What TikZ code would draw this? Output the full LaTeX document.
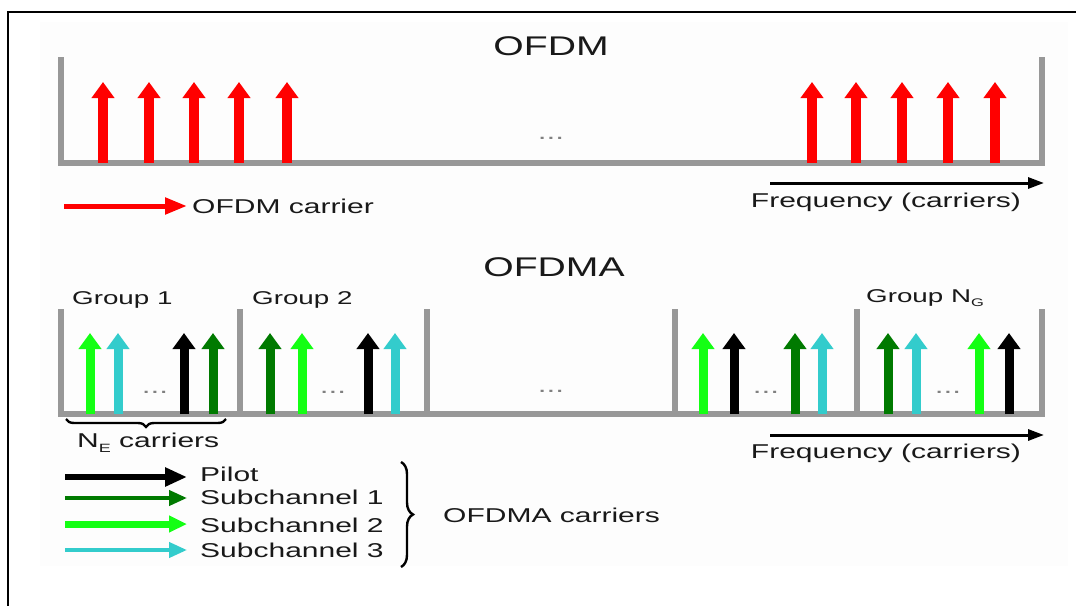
\documentclass[tikz,border=0pt]{standalone}
\usepackage{fontspec}
\newfontfamily\wf[FakeStretch=1.5]{Liberation Sans}
\newfontfamily\wt[FakeStretch=1.45]{Liberation Sans}
\usetikzlibrary{arrows.meta,decorations.pathreplacing}
\definecolor{axisgray}{RGB}{152,152,152}
\definecolor{ofdmred}{RGB}{255,0,0}
\definecolor{dgreen}{RGB}{0,122,0}
\definecolor{lgreen}{RGB}{20,255,20}
\definecolor{cyanc}{RGB}{51,204,204}
\definecolor{txt}{RGB}{25,25,25}
\definecolor{bgc}{RGB}{253,253,253}
\begin{document}
\begin{tikzpicture}[x=1pt,y=-1pt,
  lbl/.style={inner sep=0pt,text=txt,font=\wf\fontsize{20}{24}\selectfont},
  grp/.style={inner sep=0pt,text=txt,font=\wf\fontsize{18.5}{22}\selectfont},
  ttl/.style={inner sep=0pt,text=txt,font=\wt\fontsize{27}{32}\selectfont},
  dotsnode/.style={inner sep=0pt,text=gray,font=\wf\fontsize{21}{24}\selectfont},
  axisline/.style={draw=axisgray,line width=6pt,line join=miter,line cap=butt},
  carrier/.style={line width=9pt,-{Triangle[length=16pt,width=22pt]}},
  freqarrow/.style={line width=3pt,-{Triangle[length=16pt,width=11pt]}}
]
\useasboundingbox (0,0) rectangle (1076,605);
\fill[bgc] (40,22) rectangle (1068,566);
\draw[line width=2.2pt] (8,606) -- (8,12) -- (1076,12);

% ---------- OFDM ----------
\node[ttl] (tofdm) at (551,46) {OFDM};
\draw[axisline] (61,57) -- (61,163) -- (1042,163) -- (1042,57);
\foreach \x in {103,149,194,239,287,812,856,902,948,995}
  \draw[carrier,line width=10pt,ofdmred] (\x,163) -- (\x,82);
\node[dotsnode] (d0) at (551,138) {...};
\coordinate (lofdmA) at (64,206);
\coordinate (lofdmB) at (187,206);
\draw[ofdmred,line width=5pt,-{Triangle[length=22pt,width=16pt]}] (lofdmA) -- (lofdmB);
\node[lbl,anchor=west] (lofdm) at (192,206) {OFDM carrier};
\coordinate (f1a) at (770,183);
\coordinate (f1b) at (1044,183);
\draw[freqarrow] (f1a) -- (f1b);
\node[lbl] (freq1) at (886,202) {Frequency (carriers)};

% ---------- OFDMA ----------
\node[ttl] (tofdma) at (554,267) {OFDMA};
\draw[axisline] (61,309) -- (61,414) -- (1042,414) -- (1042,309);
\foreach \x in {240,427,675,857}
  \draw[axisline] (\x,309) -- (\x,414);
\foreach \x/\c in {90/lgreen,118/cyanc,184/black,213/dgreen,
                   270/dgreen,302/lgreen,368/black,395/cyanc,
                   703/lgreen,734/black,795/dgreen,822/cyanc,
                   888/dgreen,916/cyanc,979/lgreen,1009/black}
  \draw[carrier,\c] (\x,414) -- (\x,333);
\foreach \x [count=\i] in {155,333,766,948}
  \node[dotsnode] (gd\i) at (\x,392) {...};
\node[dotsnode] (dmid) at (551,391) {...};

\node[grp,anchor=west] (g1) at (72,300) {Group 1};
\node[grp,anchor=west] (g2) at (252,300) {Group 2};
\node[grp,anchor=west] (gn) at (866,298) {Group N\raisebox{-0.45ex}{\fontsize{11}{11}\selectfont G}};

\coordinate (brA) at (226,419);
\coordinate (brB) at (66,419);
\draw[line width=2.4pt,decorate,decoration={brace,amplitude=8pt}] (brA) -- (brB);
\node[lbl,anchor=west] (ne) at (77,443) {N\raisebox{-0.5ex}{\fontsize{12}{12}\selectfont E} carriers};

\coordinate (f2a) at (770,435);
\coordinate (f2b) at (1044,435);
\draw[freqarrow] (f2a) -- (f2b);
\node[lbl] (freq2) at (886,453) {Frequency (carriers)};

% legend
\draw[black,line width=6pt,-{Triangle[length=22pt,width=18pt]}] (65,477) -- (187,477);
\draw[dgreen,line width=4pt,-{Triangle[length=18pt,width=15pt]}] (65,498) -- (187,498);
\draw[lgreen,line width=7pt,-{Triangle[length=18pt,width=16pt]}] (65,524) -- (187,524);
\draw[cyanc,line width=4pt,-{Triangle[length=18pt,width=15pt]}] (65,550) -- (187,550);
\node[lbl,anchor=west] (lp) at (200,474) {Pilot};
\node[lbl,anchor=west] (l1) at (200,497) {Subchannel 1};
\node[lbl,anchor=west] (l2) at (200,525) {Subchannel 2};
\node[lbl,anchor=west] (l3) at (200,550) {Subchannel 3};
\coordinate (rbA) at (401,462);
\coordinate (rbB) at (401,567);
\draw[line width=2.4pt,decorate,decoration={brace,amplitude=12pt}] (rbA) -- (rbB);
\node[lbl,anchor=west] (oc) at (443,515) {OFDMA carriers};
\end{tikzpicture}
\end{document}
